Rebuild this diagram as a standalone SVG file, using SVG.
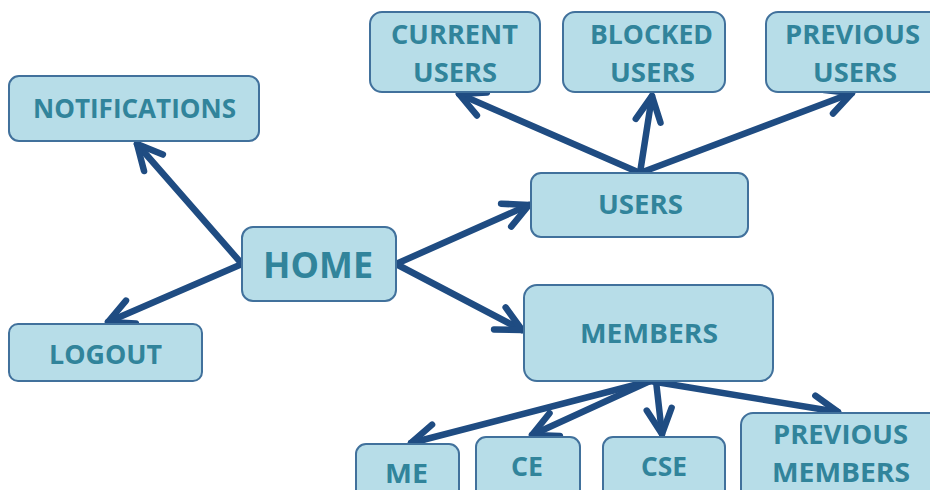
<svg xmlns="http://www.w3.org/2000/svg" width="930" height="490" viewBox="0 0 930 490">
  <style>
    .box { fill: #B7DDE8; stroke: #41719C; stroke-width: 2; }
    .lbl { font-family: "Open Sans", "Liberation Sans", sans-serif; font-weight: bold; fill: #31849B; font-size: 27px; }
    .big { font-size: 36px; }
    .link { stroke: #1F4C82; stroke-width: 6.5; fill: none; stroke-linecap: round; }
  </style>
  <defs>
    <marker id="chev" markerUnits="userSpaceOnUse" viewBox="-30 -20 40 40" markerWidth="40" markerHeight="40" refX="0" refY="0" orient="auto" overflow="visible">
      <path d="M-25,-12.5 L0,0 L-25,12.5" fill="none" stroke="#1F4C82" stroke-width="6.5" stroke-linecap="round" stroke-linejoin="round"/>
    </marker>
  </defs>
  <rect width="930" height="490" fill="#FFFFFF"/>

  <g id="connectors">
    <path class="link" marker-end="url(#chev)" d="M242,264 L137,144"/>
    <path class="link" marker-end="url(#chev)" d="M242,264 L108,322"/>
    <path class="link" marker-end="url(#chev)" d="M396,264 L529,205"/>
    <path class="link" marker-end="url(#chev)" d="M396,264 L522,330"/>
    <path class="link" marker-end="url(#chev)" d="M640,173 L459,94"/>
    <path class="link" marker-end="url(#chev)" d="M640,173 L652,96"/>
    <path class="link" marker-end="url(#chev)" d="M640,173 L852,93"/>
    <path class="link" marker-end="url(#chev)" d="M650,381 L411,443"/>
    <path class="link" marker-end="url(#chev)" d="M650,381 L532,435"/>
    <path class="link" marker-end="url(#chev)" d="M656,381 L662,434"/>
    <path class="link" marker-end="url(#chev)" d="M650,381 L838,412"/>
  </g>

  <g id="home">
    <rect class="box" x="242" y="227" width="154" height="74" rx="11"/>
    <text class="lbl big" x="263" y="278" textLength="110" lengthAdjust="spacingAndGlyphs">HOME</text>
  </g>
  <g id="notifications">
    <rect class="box" x="9" y="76" width="250" height="65" rx="10"/>
    <text class="lbl" x="33" y="118" textLength="203" lengthAdjust="spacingAndGlyphs">NOTIFICATIONS</text>
  </g>
  <g id="logout">
    <rect class="box" x="9" y="324" width="193" height="57" rx="9"/>
    <text class="lbl" x="49" y="364" textLength="113" lengthAdjust="spacingAndGlyphs">LOGOUT</text>
  </g>
  <g id="users">
    <rect class="box" x="531" y="173" width="217" height="64" rx="10"/>
    <text class="lbl" x="598" y="214" textLength="85" lengthAdjust="spacingAndGlyphs">USERS</text>
  </g>
  <g id="current-users">
    <rect class="box" x="370" y="12" width="170" height="80" rx="12"/>
    <text class="lbl" x="391" y="44" textLength="127" lengthAdjust="spacingAndGlyphs">CURRENT</text>
    <text class="lbl" x="413" y="82" textLength="84" lengthAdjust="spacingAndGlyphs">USERS</text>
  </g>
  <g id="blocked-users">
    <rect class="box" x="563" y="12" width="162" height="80" rx="12"/>
    <text class="lbl" x="590" y="44" textLength="123" lengthAdjust="spacingAndGlyphs">BLOCKED</text>
    <text class="lbl" x="610" y="82" textLength="85" lengthAdjust="spacingAndGlyphs">USERS</text>
  </g>
  <g id="previous-users">
    <rect class="box" x="766" y="12" width="180" height="80" rx="12"/>
    <text class="lbl" x="785" y="44" textLength="135" lengthAdjust="spacingAndGlyphs">PREVIOUS</text>
    <text class="lbl" x="813" y="82" textLength="84" lengthAdjust="spacingAndGlyphs">USERS</text>
  </g>
  <g id="members">
    <rect class="box" x="524" y="285" width="249" height="96" rx="13"/>
    <text class="lbl" x="580" y="343" textLength="138" lengthAdjust="spacingAndGlyphs">MEMBERS</text>
  </g>
  <g id="me">
    <rect class="box" x="356" y="444" width="103" height="70" rx="10"/>
    <text class="lbl" x="385" y="483" textLength="43" lengthAdjust="spacingAndGlyphs">ME</text>
  </g>
  <g id="ce">
    <rect class="box" x="476" y="437" width="104" height="70" rx="10"/>
    <text class="lbl" x="511" y="476" textLength="32" lengthAdjust="spacingAndGlyphs">CE</text>
  </g>
  <g id="cse">
    <rect class="box" x="603" y="437" width="122" height="70" rx="10"/>
    <text class="lbl" x="641" y="476" textLength="46" lengthAdjust="spacingAndGlyphs">CSE</text>
  </g>
  <g id="previous-members">
    <rect class="box" x="741" y="413" width="205" height="100" rx="12"/>
    <text class="lbl" x="773" y="444" textLength="135" lengthAdjust="spacingAndGlyphs">PREVIOUS</text>
    <text class="lbl" x="772" y="482" textLength="138" lengthAdjust="spacingAndGlyphs">MEMBERS</text>
  </g>
</svg>
